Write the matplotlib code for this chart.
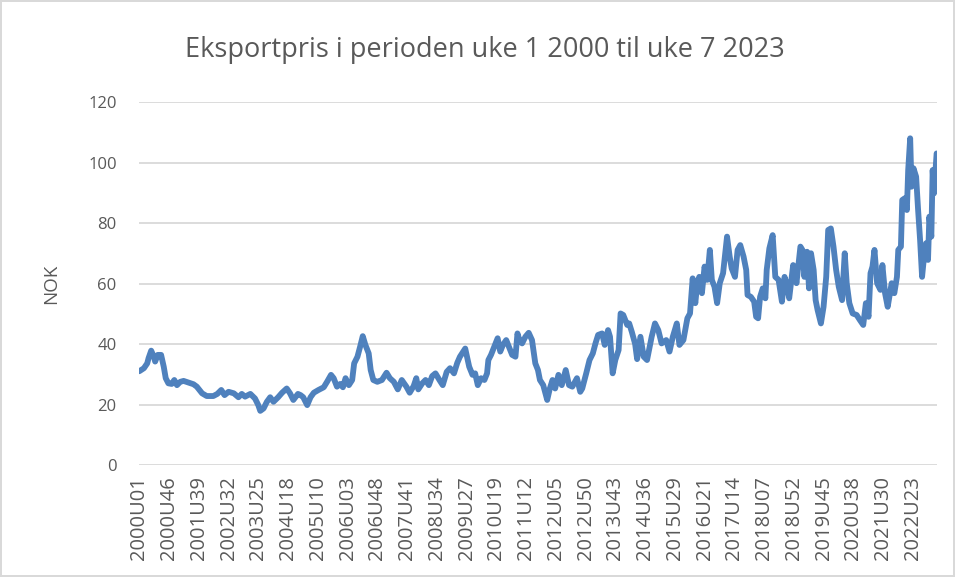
"""Weekly export price (NOK) from week 1 2000 to week 7 2023, drawn as an Excel-style line chart."""

import matplotlib

matplotlib.use("Agg")
import matplotlib.pyplot as plt

TITLE = "Eksportpris i perioden uke 1 2000 til uke 7 2023"
Y_LABEL = "NOK"
LINE_COLOR = "#4f81bd"
TEXT_COLOR = "#595959"
GRID_COLOR = "#d9d9d9"
N_WEEKS = 1207
TICK_STEP = 45

# week index (0 = 2000U01) and price
WEEKS = [
    0, 7, 12, 14, 18, 22, 24, 28, 33, 37, 40, 44, 49, 53, 57, 62, 67, 75, 82, 87,
    95, 102, 112, 118, 124, 129, 135, 143, 150, 155, 160, 168, 175, 180, 183, 188, 193, 198, 203, 210,
    216, 223, 228, 233, 240, 244, 248, 254, 259, 264, 271, 279, 284, 290, 294, 299, 304, 308, 312, 317,
    322, 325, 330, 334, 338, 342, 347, 350, 354, 360, 367, 374, 379, 385, 391, 397, 404, 409, 415, 419,
    422, 428, 433, 438, 443, 448, 454, 459, 465, 470, 476, 481, 485, 490, 493, 499, 504, 508, 512, 517,
    522, 526, 528, 532, 538, 542, 546, 550, 555, 560, 564, 569, 572, 575, 579, 584, 589, 594, 599, 603,
    606, 611, 617, 621, 625, 629, 634, 639, 645, 650, 655, 662, 667, 670, 676, 681, 686, 690, 694, 700,
    704, 709, 712, 716, 720, 725, 728, 732, 738, 741, 745, 750, 753, 758, 763, 768, 775, 780, 785, 790,
    797, 802, 807, 813, 817, 823, 829, 833, 837, 841, 844, 847, 851, 855, 859, 863, 866, 870, 874, 878,
    883, 889, 893, 896, 901, 905, 909, 914, 918, 920, 925, 930, 933, 936, 939, 943, 947, 949, 953, 958,
    962, 967, 972, 976, 979, 983, 989, 994, 1000, 1003, 1006, 1010, 1013, 1016, 1020, 1023, 1026, 1031, 1035, 1039,
    1042, 1046, 1050, 1054, 1058, 1063, 1067, 1070, 1074, 1079, 1085, 1090, 1095, 1099, 1103, 1106, 1109, 1112, 1116, 1121,
    1124, 1128, 1132, 1138, 1142, 1146, 1148, 1152, 1154, 1158, 1161, 1163, 1166, 1168, 1171, 1175, 1178, 1181, 1184, 1187,
    1190, 1193, 1195, 1198, 1200, 1202, 1204, 1206,
]
PRICES = [
    31.0, 32.0, 33.6, 35.3, 37.8, 35.8, 34.2, 36.4, 36.4, 32.5, 28.7, 27.0, 26.8, 28.1, 26.4, 27.5, 27.8, 27.2, 26.7, 25.9,
    23.7, 22.8, 22.8, 23.5, 24.8, 23.1, 24.2, 23.7, 22.4, 23.5, 22.6, 23.5, 22.0, 19.8, 17.9, 18.7, 20.9, 22.4, 20.9, 22.4,
    23.9, 25.3, 23.7, 21.5, 23.5, 23.1, 22.4, 19.8, 22.4, 23.9, 24.8, 25.7, 27.5, 29.8, 28.7, 25.9, 26.8, 25.7, 28.7, 26.4,
    28.1, 33.6, 35.8, 39.1, 42.6, 39.7, 36.9, 31.4, 28.1, 27.5, 28.1, 30.5, 28.7, 27.5, 25.0, 28.1, 25.9, 23.9, 26.1, 28.7,
    25.0, 27.0, 28.1, 26.4, 29.4, 30.3, 28.1, 26.4, 30.8, 32.0, 30.3, 33.8, 35.8, 37.5, 38.5, 32.5, 29.8, 30.3, 26.4, 28.7,
    28.1, 30.3, 34.7, 36.4, 39.7, 41.9, 37.5, 39.7, 41.3, 38.6, 36.4, 35.8, 43.5, 41.3, 40.2, 42.4, 43.7, 41.3, 33.6, 31.4,
    28.1, 26.4, 21.5, 25.3, 28.1, 25.3, 29.8, 26.4, 31.4, 26.4, 25.9, 28.7, 24.2, 25.3, 30.3, 34.7, 36.9, 40.2, 43.0, 43.5,
    39.7, 44.6, 42.4, 30.3, 34.7, 38.0, 50.1, 49.6, 46.3, 46.8, 44.0, 40.0, 35.0, 42.4, 35.8, 34.7, 42.4, 46.8, 44.6, 40.2,
    41.3, 37.5, 42.4, 46.8, 39.7, 41.3, 48.5, 50.1, 61.7, 53.5, 60.1, 62.2, 56.8, 65.6, 61.2, 71.1, 61.2, 58.9, 53.5, 60.1,
    63.4, 75.5, 68.9, 65.0, 62.2, 71.1, 72.7, 68.9, 64.5, 56.2, 55.6, 54.0, 49.0, 48.5, 55.6, 58.4, 55.1, 64.5, 71.6, 76.0,
    62.2, 61.2, 54.0, 62.2, 60.1, 55.1, 66.1, 60.1, 72.2, 71.1, 62.2, 70.5, 58.4, 70.0, 64.5, 54.5, 51.2, 46.8, 52.3, 62.2,
    77.7, 78.2, 72.2, 64.5, 58.9, 54.5, 70.0, 60.1, 53.5, 50.1, 49.6, 47.9, 46.3, 53.5, 49.0, 63.4, 65.6, 71.1, 60.1, 57.9,
    66.1, 56.8, 52.3, 60.1, 56.8, 62.2, 71.1, 72.2, 87.6, 88.2, 84.3, 97.5, 108.0, 92.0, 98.1, 95.3, 84.3, 74.4, 62.2, 68.9,
    73.3, 67.8, 82.1, 75.5, 97.5, 89.8, 96.4, 103.0,
]
TICK_LABELS = [
    "2000U01", "2000U46", "2001U39", "2002U32", "2003U25", "2004U18", "2005U10", "2006U03", "2006U48",
    "2007U41", "2008U34", "2009U27", "2010U19", "2011U12", "2012U05", "2012U50", "2013U43", "2014U36",
    "2015U29", "2016U21", "2017U14", "2018U07", "2018U52", "2019U45", "2020U38", "2021U30", "2022U23",
]
Y_TICKS = [0, 20, 40, 60, 80, 100, 120]


def build_chart():
    """Draw the price line with Excel-like styling."""
    plt.rcParams["font.family"] = ["Open Sans", "DejaVu Sans"]
    fig = plt.figure(figsize=(9.55, 5.77), dpi=100)
    fig.patch.set_edgecolor(GRID_COLOR)
    fig.patch.set_linewidth(1.5)
    ax = fig.add_axes([0.1455, 0.1941, 0.8356, 0.6291])

    ax.plot(WEEKS, PRICES, color=LINE_COLOR, linewidth=4.2, solid_joinstyle="round", solid_capstyle="round")

    ax.set_xlim(-0.5, N_WEEKS - 0.5)
    ax.set_ylim(0, 120)
    ax.set_yticks(Y_TICKS)
    ax.set_xticks(range(0, TICK_STEP * len(TICK_LABELS), TICK_STEP))
    ax.set_xticklabels(TICK_LABELS, rotation=90)
    ax.tick_params(length=0, colors=TEXT_COLOR)
    ax.tick_params(axis="x", pad=8, labelsize=14.5)
    ax.tick_params(axis="y", pad=16, labelsize=12)
    ax.grid(axis="y", color=GRID_COLOR, linewidth=1.3)
    ax.set_axisbelow(True)
    for spine in ax.spines.values():
        spine.set_visible(False)

    ax.set_ylabel(Y_LABEL, color=TEXT_COLOR, fontsize=13.5, labelpad=20)
    fig.text(0.508, 0.913, TITLE, ha="center", va="center", color=TEXT_COLOR, fontsize=19.5)
    return fig


def main():
    fig = build_chart()
    fig.savefig("out.png", dpi=100)
    plt.close(fig)


if __name__ == "__main__":
    main()
